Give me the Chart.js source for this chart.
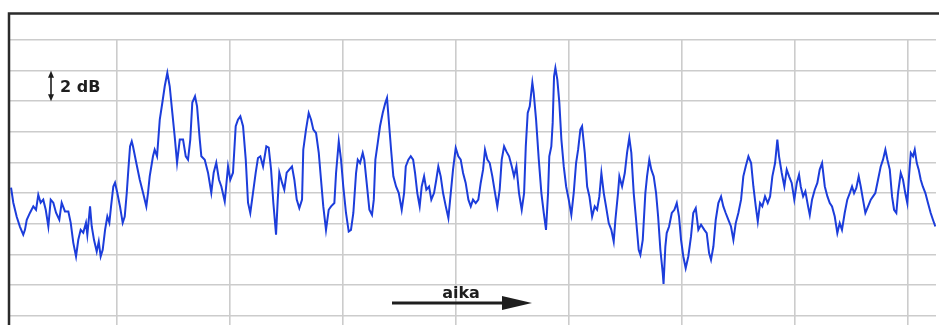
<!DOCTYPE html>
<html>
<head>
<meta charset="utf-8">
<script src="https://cdn.jsdelivr.net/npm/chart.js@4.4.1/dist/chart.umd.min.js"></script>
<style>
  html, body { margin: 0; padding: 0; background: #fff; }
  canvas { display: block; }
</style>
</head>
<body>
<canvas id="fadeChart" width="939" height="325"></canvas>
<script>
/* =========================
   DATA (time in grid units, level in dB)
========================= */
const times = [
  0.065, 0.085, 0.115, 0.144, 0.173, 0.188, 0.204, 0.233, 0.262, 0.286,
  0.306, 0.327, 0.350, 0.372, 0.395, 0.416, 0.439, 0.463, 0.492, 0.513,
  0.542, 0.572, 0.593, 0.616, 0.640, 0.660, 0.681, 0.704, 0.728, 0.740,
  0.764, 0.779, 0.799, 0.823, 0.841, 0.858, 0.876, 0.897, 0.917, 0.935,
  0.950, 0.970, 0.985, 1.005, 1.029, 1.053, 1.071, 1.089, 1.103, 1.118, 1.133,
  1.144, 1.173, 1.204, 1.233, 1.262, 1.277, 1.292, 1.321, 1.336, 1.357,
  1.381, 1.404, 1.425, 1.448, 1.469, 1.492, 1.513, 1.534, 1.558, 1.587,
  1.611, 1.631, 1.651, 1.669, 1.693, 1.711, 1.735, 1.749, 1.779, 1.808,
  1.837, 1.858, 1.881, 1.905, 1.926, 1.956, 1.985, 2.005, 2.029, 2.053,
  2.073, 2.094, 2.118, 2.142, 2.162, 2.182, 2.206, 2.230, 2.250, 2.271, 2.295,
  2.324, 2.345, 2.366, 2.386, 2.410, 2.425, 2.439, 2.463, 2.483, 2.504,
  2.527, 2.551, 2.572, 2.593, 2.616, 2.640, 2.651, 2.675, 2.699, 2.720,
  2.740, 2.764, 2.788, 2.808, 2.828, 2.852, 2.876, 2.897, 2.926, 2.941,
  2.965, 2.985, 3.005, 3.029, 3.053, 3.073, 3.094, 3.118, 3.133, 3.153,
  3.177, 3.191, 3.212, 3.236, 3.259, 3.275, 3.289, 3.310, 3.330, 3.354,
  3.377, 3.392, 3.407, 3.428, 3.448, 3.472, 3.496,
  3.522, 3.543, 3.558, 3.581, 3.602, 3.623, 3.640, 3.660, 3.681, 3.699,
  3.720, 3.740, 3.764, 3.784, 3.808, 3.828, 3.846, 3.867, 3.888, 3.912,
  3.935, 3.956, 3.976, 4.000, 4.023, 4.044, 4.065, 4.088, 4.112, 4.133,
  4.153, 4.177, 4.200, 4.221, 4.242, 4.259, 4.280, 4.301, 4.324, 4.348,
  4.368, 4.389, 4.407, 4.428, 4.448, 4.472, 4.496, 4.516, 4.537, 4.560,
  4.584, 4.605, 4.620, 4.637, 4.655, 4.678,
  4.690, 4.711, 4.735, 4.758, 4.779, 4.799, 4.817, 4.828, 4.846, 4.858,
  4.870, 4.882, 4.899, 4.917, 4.935, 4.956, 4.977, 5.000, 5.023, 5.044,
  5.065, 5.083, 5.103, 5.118, 5.142, 5.163, 5.183, 5.207, 5.230, 5.251,
  5.271, 5.289, 5.310, 5.330, 5.354, 5.377, 5.398, 5.413, 5.436, 5.448,
  5.472, 5.496, 5.516, 5.536, 5.554, 5.575, 5.596, 5.619, 5.634, 5.655,
  5.678, 5.693, 5.713, 5.731, 5.752, 5.773, 5.791, 5.811, 5.832, 5.839, 5.855,
  5.867, 5.888, 5.912, 5.935, 5.956, 5.976, 5.994, 6.014, 6.035, 6.058,
  6.082, 6.102, 6.124, 6.147, 6.171, 6.200, 6.221, 6.242, 6.259, 6.280,
  6.301, 6.324, 6.348, 6.368, 6.389, 6.412, 6.436, 6.457, 6.478, 6.501,
  6.525, 6.545, 6.566, 6.590, 6.614, 6.634, 6.655, 6.673, 6.693, 6.713,
  6.737, 6.761, 6.782, 6.802, 6.826, 6.846, 6.861, 6.885, 6.908, 6.929,
  6.950, 6.973, 6.996, 7.018, 7.038,
  7.053, 7.074, 7.094, 7.118, 7.133, 7.153, 7.177, 7.200, 7.221, 7.242,
  7.266, 7.289, 7.310, 7.330, 7.354, 7.377, 7.398, 7.418, 7.442, 7.465,
  7.487, 7.507, 7.525, 7.545, 7.566, 7.584, 7.604, 7.625, 7.649, 7.673,
  7.693, 7.713, 7.737, 7.761, 7.781, 7.802, 7.820, 7.841, 7.861, 7.879,
  7.899, 7.914, 7.938, 7.958, 7.978, 7.996, 8.011, 8.027, 8.047, 8.062,
  8.080, 8.097, 8.115, 8.133, 8.156, 8.179, 8.203, 8.223, 8.244
];

const levels = [
  0.36, -0.62, -1.54, -2.19, -2.71, -2.39, -1.73, -1.27, -0.86, -1.08,
  -0.10, -0.62, -0.42, -1.08, -2.17, -0.42, -0.62, -1.27, -1.73, -0.62,
  -1.19, -1.19, -1.93, -3.24, -4.13, -3.04, -2.39, -2.58, -1.93, -2.71,
  -0.86, -2.17, -3.04, -3.80, -3.15, -4.13, -3.69, -2.39, -1.52, -1.93,
  -0.86, 0.44, 0.69, 0.03, -0.86, -1.93, -1.52, 0.03, 1.54, 3.06, 3.39,
  3.06, 1.99, 0.88, 0.03, -0.86, 0.03, 1.10, 2.41, 2.84, 2.41,
  4.80, 5.92, 6.98, 7.86, 6.98, 5.26, 3.71, 1.99, 3.50, 3.50,
  2.41, 2.19, 3.50, 5.92, 6.33, 5.67, 3.50, 2.41, 2.19, 1.34,
  0.03, 1.34, 1.99, 0.88, 0.44, -0.54, 1.75, 0.88, 1.34, 4.37,
  4.80, 5.02, 4.37, 2.19, -0.62, -1.29, 0.03, 1.34, 2.30, 2.41, 1.75,
  3.06, 2.97, 1.54, -0.62, -2.71, -0.42, 1.34, 0.69, 0.23, 1.34,
  1.54, 1.75, 0.88, -0.42, -0.97, -0.42, 2.84, 4.15, 5.24, 4.80,
  4.15, 3.93, 2.63, 0.88, -0.86, -2.39, -1.08, -0.86, -0.64, 1.32,
  3.39, 2.19, 0.44, -1.29, -2.50, -2.39, -1.29, 1.32, 2.19, 1.97,
  2.63, 2.19, 0.67, -1.08, -1.41, -0.42, 2.19, 3.28, 4.37, 5.24,
  5.90, 6.22, 4.80, 2.84, 1.10, 0.44, 0.01,
  -1.08, 0.01, 1.75, 2.19, 2.41, 2.19, 1.32, 0.01, -0.86, 0.44,
  1.10, 0.23, 0.44, -0.42, 0.01, 0.88, 1.75, 1.10, 0.01, -0.86,
  -1.62, 0.01, 1.54, 2.95, 2.41, 2.19, 1.32, 0.67, -0.42, -0.86,
  -0.42, -0.64, -0.42, 0.67, 1.54, 2.84, 2.19, 1.97, 1.10, 0.01,
  -0.86, 0.23, 2.19, 3.06, 2.73, 2.41, 1.75, 1.10, 1.75, 0.01,
  -1.08, 0.01, 3.06, 5.24, 5.67, 7.22,
  6.55, 4.80, 2.19, 0.01, -1.29, -2.39, 0.01, 2.41, 3.06, 4.59,
  7.63, 8.18, 7.42, 5.90, 3.50, 1.75, 0.44, -0.42, -1.41, 0.01,
  1.97, 2.84, 4.15, 4.37, 2.63, 0.44, -0.21, -1.52, -0.86, -1.08,
  -0.21, 1.32, 0.01, -0.86, -1.95, -2.39, -3.15, -1.73, 0.01, 1.10,
  0.44, 1.32, 2.63, 3.61, 2.63, 0.01, -1.73, -3.69, -4.02, -3.04,
  0.01, 1.10, 2.19, 1.54, 1.10, 0.01, -1.52, -3.69, -5.22, -5.92, -3.48,
  -2.60, -2.17, -1.29, -1.08, -0.64, -1.52, -3.04, -4.13, -4.89, -4.13,
  -2.82, -1.29, -0.97, -2.39, -2.06, -2.39, -2.60, -3.91, -4.35, -3.48,
  -1.73, -0.64, -0.21, -0.86, -1.29, -1.73, -2.17, -3.04, -1.95, -1.29,
  -0.42, 1.10, 1.75, 2.41, 1.97, 0.44, -0.86, -1.84, -0.64, -0.86,
  -0.21, -0.64, -0.21, 1.10, 1.97, 3.50, 2.41, 1.32, 0.44, 1.54,
  1.10, 0.67, -0.42, 0.67, 1.21,
  0.44, -0.21, 0.12, -0.86, -1.41, -0.42, 0.23, 0.67, 1.54, 1.97,
  0.44, -0.21, -0.64, -0.86, -1.52, -2.60, -1.95, -2.39, -1.29, -0.42,
  0.01, 0.44, 0.01, 0.34, 1.10, 0.44, -0.42, -1.29, -0.86, -0.42,
  -0.21, 0.01, 0.88, 1.75, 2.19, 2.84, 2.19, 1.54, -0.21, -1.08,
  -1.29, 0.01, 1.32, 0.88, 0.01, -0.64, 1.10, 2.63, 2.41, 2.84,
  1.97, 1.54, 0.88, 0.44, 0.01, -0.64, -1.29, -1.73, -2.17
];

const timeTicks = [1, 2, 3, 4, 5, 6, 7, 8];
const levelTicks = [-8, -6, -4, -2, 0, 2, 4, 6, 8, 10];

const scaleLabel = '2 dB';
const timeLabel = 'aika';

/* =========================
   FRAME + ANNOTATIONS
========================= */
const framePlugin = {
    id: 'frameAndNotes',
    afterDraw(chart) {
        const ctx = chart.ctx;
        const area = chart.chartArea;
        const yScale = chart.scales.y;

        ctx.save();

        // frame: top and left only
        ctx.strokeStyle = '#2b2b2b';
        ctx.lineWidth = 2.5;
        ctx.beginPath();
        ctx.moveTo(area.left + 1, chart.height);
        ctx.lineTo(area.left + 1, 13.5);
        ctx.lineTo(chart.width, 13.5);
        ctx.stroke();

        // 2 dB double arrow, spans one grid step
        const yTop = yScale.getPixelForValue(8);
        const yBot = yScale.getPixelForValue(6);
        const ax = 51;
        ctx.strokeStyle = '#1e1e1e';
        ctx.fillStyle = '#1e1e1e';
        ctx.lineWidth = 1.6;
        ctx.beginPath();
        ctx.moveTo(ax, yTop + 5);
        ctx.lineTo(ax, yBot - 5);
        ctx.stroke();
        ctx.beginPath();
        ctx.moveTo(ax, yTop);
        ctx.lineTo(ax - 3, yTop + 7);
        ctx.lineTo(ax + 3, yTop + 7);
        ctx.closePath();
        ctx.fill();
        ctx.beginPath();
        ctx.moveTo(ax, yBot);
        ctx.lineTo(ax - 3, yBot - 7);
        ctx.lineTo(ax + 3, yBot - 7);
        ctx.closePath();
        ctx.fill();

        ctx.font = 'bold 16px "DejaVu Sans"';
        ctx.textBaseline = 'alphabetic';
        ctx.textAlign = 'left';
        ctx.fillText(scaleLabel, 60, 92);

        // time arrow
        ctx.textAlign = 'center';
        ctx.fillText(timeLabel, 461, 298);
        ctx.lineWidth = 3;
        ctx.beginPath();
        ctx.moveTo(392, 303);
        ctx.lineTo(504, 303);
        ctx.stroke();
        ctx.beginPath();
        ctx.moveTo(532, 303);
        ctx.lineTo(502, 296);
        ctx.lineTo(502, 310);
        ctx.closePath();
        ctx.fill();

        ctx.restore();
    }
};

/* =========================
   CHART
========================= */
const points = times.map((t, i) => ({ x: t, y: levels[i] }));

const gridStyle = {
    color: '#cccccc',
    lineWidth: 1.6,
    drawTicks: false
};

new Chart(document.getElementById('fadeChart').getContext('2d'), {
    type: 'line',
    data: {
        datasets: [{
            data: points,
            borderColor: '#1c3ddb',
            borderWidth: 2,
            pointRadius: 0,
            tension: 0,
            fill: false
        }]
    },
    options: {
        responsive: false,
        animation: false,
        events: [],
        layout: { padding: { left: 8, right: 3, top: 40, bottom: 0 } },
        plugins: {
            legend: { display: false },
            tooltip: { enabled: false }
        },
        scales: {
            x: {
                type: 'linear',
                min: 0.038,
                max: 8.25,
                afterBuildTicks: (scale) => {
                    scale.ticks = timeTicks.map(v => ({ value: v }));
                },
                ticks: { display: false },
                grid: gridStyle,
                border: { display: false }
            },
            y: {
                min: -8.6,
                max: 10,
                afterBuildTicks: (scale) => {
                    scale.ticks = levelTicks.map(v => ({ value: v }));
                },
                ticks: { display: false },
                grid: gridStyle,
                border: { display: false }
            }
        }
    },
    plugins: [framePlugin]
});
</script>
</body>
</html>
